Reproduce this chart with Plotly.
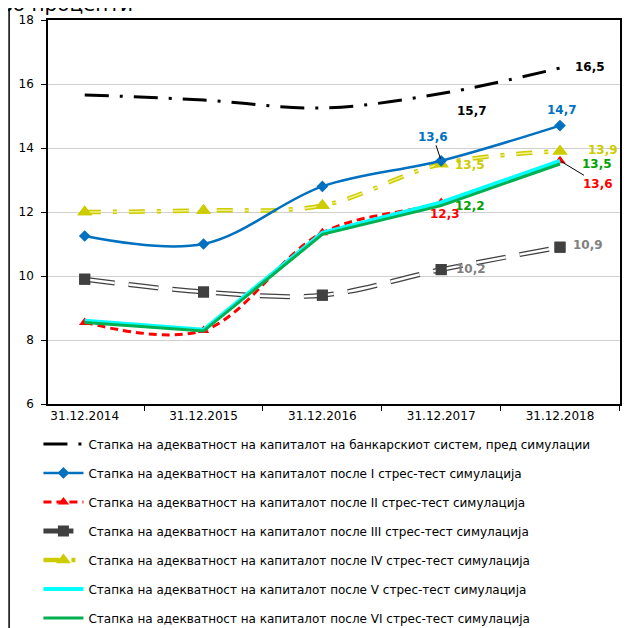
import plotly.graph_objects as go

# ── DATA ────────────────────────────────────────────────────────────────
DATES = ['31.12.2014', '31.12.2015', '31.12.2016', '31.12.2017', '31.12.2018']

SYSTEM = [15.66, 15.5, 15.25, 15.7, 16.5]
SIM_I = [11.25, 11.0, 12.8, 13.6, 14.7]
SIM_II = [8.55, 8.3, 11.35, 12.3, 13.6]
SIM_III = [9.9, 9.5, 9.4, 10.2, 10.9]
SIM_IV = [12.0, 12.05, 12.2, 13.5, 13.9]
SIM_V = [8.6, 8.32, 11.35, 12.3, 13.6]
SIM_VI = [8.55, 8.28, 11.3, 12.2, 13.5]

NAMES = [
    'Стапка на адекватност на капиталот на банкарскиот систем, пред симулации',
    'Стапка на адекватност на капиталот после I стрес-тест симулација',
    'Стапка на адекватност на капиталот после II стрес-тест симулација',
    'Стапка на адекватност на капиталот после III стрес-тест симулација',
    'Стапка на адекватност на капиталот после IV стрес-тест симулација',
    'Стапка на адекватност на капиталот после V стрес-тест симулација',
    'Стапка на адекватност на капиталот после VI стрес-тест симулација',
]

FONT = 'DejaVu Sans'
YELLOW = '#cccc00'

fig = go.Figure()

# system, before simulations
fig.add_trace(go.Scatter(x=DATES, y=SYSTEM, name=NAMES[0], mode='lines',
                         line=dict(color='black', width=3, dash='24px,11px,3px,11px',
                                   shape='spline', smoothing=1),
                         legendgroup='g0', legendrank=1))

# III - double gray line with squares
fig.add_trace(go.Scatter(x=DATES, y=SIM_III, name=NAMES[3], mode='lines+markers',
                         line=dict(color='#404040', width=5, dash='30px,14px',
                                   shape='spline', smoothing=1),
                         marker=dict(symbol='square', size=11, color='#404040'),
                         legendgroup='g3', legendrank=4))
fig.add_trace(go.Scatter(x=DATES, y=SIM_III, mode='lines+markers', showlegend=False,
                         line=dict(color='white', width=2.5, dash='30px,14px',
                                   shape='spline', smoothing=1),
                         marker=dict(symbol='square', size=11, color='#404040'),
                         legendgroup='g3'))

# IV - yellow compound dash-dot with triangles
fig.add_trace(go.Scatter(x=DATES, y=SIM_IV, name=NAMES[4], mode='lines+markers',
                         line=dict(color=YELLOW, width=4.5, dash='16px,12px,4px,12px',
                                   shape='spline', smoothing=1),
                         marker=dict(symbol='triangle-up', size=13, color=YELLOW),
                         legendgroup='g4', legendrank=5))
fig.add_trace(go.Scatter(x=DATES, y=SIM_IV, mode='lines+markers', showlegend=False,
                         line=dict(color='#f2f28a', width=1.5, dash='16px,12px,4px,12px',
                                   shape='spline', smoothing=1),
                         marker=dict(symbol='triangle-up', size=13, color=YELLOW),
                         legendgroup='g4'))

# I - blue with diamonds
fig.add_trace(go.Scatter(x=DATES, y=SIM_I, name=NAMES[1], mode='lines+markers',
                         line=dict(color='#0070c0', width=2.5, shape='spline', smoothing=1),
                         marker=dict(symbol='diamond', size=9, color='#0070c0'),
                         legendgroup='g1', legendrank=2))

# II - red dashed with triangles
fig.add_trace(go.Scatter(x=DATES, y=SIM_II, name=NAMES[2], mode='lines+markers',
                         line=dict(color='#ff0000', width=3, dash='8px,5px',
                                   shape='spline', smoothing=1),
                         marker=dict(symbol='triangle-up', size=10, color='#ff0000'),
                         legendgroup='g2', legendrank=3))

# V and VI
fig.add_trace(go.Scatter(x=DATES, y=SIM_V, name=NAMES[5], mode='lines',
                         line=dict(color='#00ffff', width=4),
                         legendgroup='g5', legendrank=6))
fig.add_trace(go.Scatter(x=DATES, y=SIM_VI, name=NAMES[6], mode='lines',
                         line=dict(color='#00b050', width=3),
                         legendgroup='g6', legendrank=7))

# ── DATA LABELS ─────────────────────────────────────────────────────────
def label(i, series, color, xs=0, ys=0, arrow=None):
    txt = f'{series[i]:.1f}'.replace('.', ',')
    a = dict(x=DATES[i], y=series[i], text=f'<b>{txt}</b>', xref='x', yref='y',
             font=dict(family=FONT, size=12, color=color))
    if arrow:
        a.update(showarrow=True, ax=arrow[0], ay=arrow[1], arrowhead=0,
                 arrowwidth=1, arrowcolor='black', standoff=2)
    else:
        a.update(showarrow=False, xshift=xs, yshift=ys)
    fig.add_annotation(**a)

label(3, SYSTEM, 'black', 31, -17)
label(4, SYSTEM, 'black', 30, 1)
label(3, SIM_I, '#0070c0', arrow=(-8, -24))
label(4, SIM_I, '#0070c0', 2, 16)
label(3, SIM_IV, YELLOW, 29, -1)
label(4, SIM_IV, YELLOW, 43, 1)
label(4, SIM_VI, '#00a000', 37, 0)
label(4, SIM_II, '#ff0000', arrow=(38, 23))
label(3, SIM_VI, '#00a000', 29, 0)
label(3, SIM_II, '#ff0000', 4, -12)
label(3, SIM_III, '#808080', 30, 1)
label(4, SIM_III, '#808080', 28, 2)

# cut-off unit text at the very top
fig.add_annotation(text='во проценти', xref='paper', yref='paper', x=-0.086, y=1.042,
                   xanchor='left', yanchor='middle', showarrow=False,
                   font=dict(family=FONT, size=20, color='black'))

# outer chart frame (extends past the window)
fig.add_shape(type='line', xref='paper', yref='paper', x0=-0.068, x1=1.2, y0=1.034, y1=1.034,
              line=dict(color='black', width=1.5))
fig.add_shape(type='line', xref='paper', yref='paper', x0=-0.068, x1=-0.068, y0=1.034, y1=-1,
              line=dict(color='black', width=1.5))

fig.update_xaxes(showline=True, linecolor='black', linewidth=1.5, mirror=True,
                 ticks='outside', tickson='boundaries', ticklen=5, tickcolor='black',
                 showgrid=False, automargin=False,
                 tickfont=dict(family=FONT, size=12, color='black'))
fig.update_yaxes(range=[6, 18], dtick=2, showline=True, linecolor='black', linewidth=1.5,
                 mirror=True, ticks='outside', ticklen=5, tickcolor='black',
                 ticklabelstandoff=5,
                 gridcolor='#d0d0d0', gridwidth=1, zeroline=False, automargin=False,
                 tickfont=dict(family=FONT, size=12, color='black'))

# the page body adds an 8px offset, so the layout is shifted up-left by 8px
fig.update_layout(
    width=634, height=628,
    margin=dict(l=40, r=22, t=12, b=232, autoexpand=False),
    plot_bgcolor='white', paper_bgcolor='white',
    font=dict(family=FONT, size=12, color='black'),
    legend=dict(xref='container', yref='container', x=0.048, y=0.329,
                xanchor='left', yanchor='top',
                font=dict(family=FONT, size=12, color='black'),
                tracegroupgap=10, itemwidth=40, bgcolor='rgba(0,0,0,0)'),
)

fig.write_html('out.html')
